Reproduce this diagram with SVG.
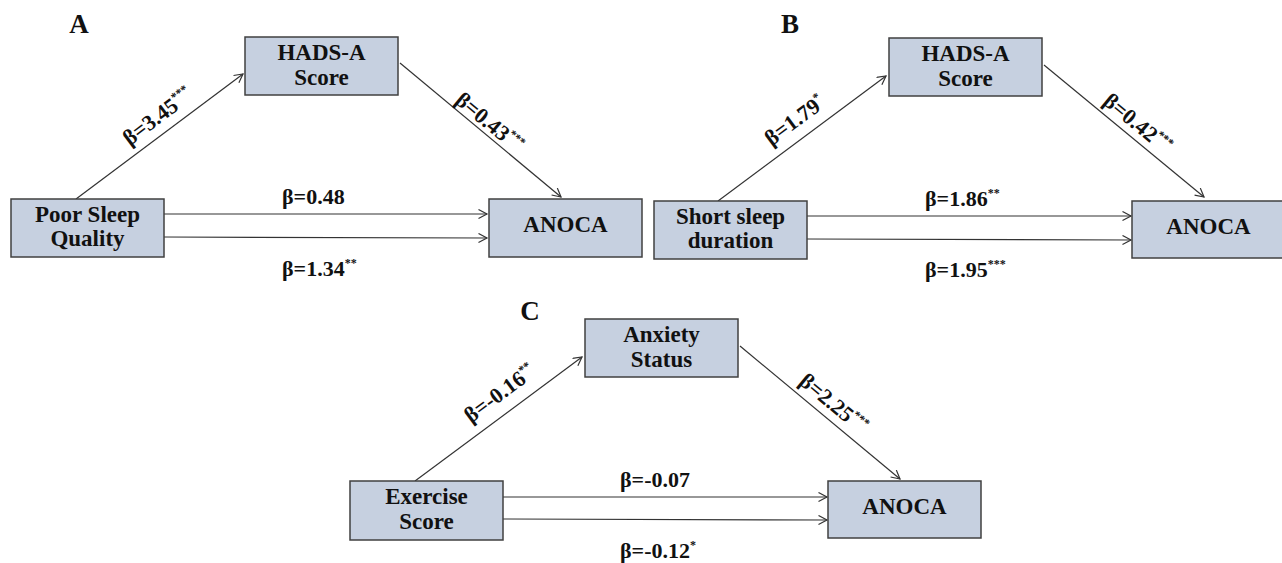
<svg xmlns="http://www.w3.org/2000/svg" width="1282" height="563" viewBox="0 0 1282 563">
<style>
.box{fill:#c6d0e0;stroke:#404040;stroke-width:1.5}
.t{font-family:"Liberation Serif","Times New Roman",serif;font-weight:bold;font-size:23px;fill:#111;text-anchor:middle}
.l{font-family:"Liberation Serif","Times New Roman",serif;font-weight:bold;font-size:22px;fill:#111}
.lm{text-anchor:middle}
.s{font-size:12px}
.p{font-family:"Liberation Serif","Times New Roman",serif;font-weight:bold;font-size:27px;fill:#111;text-anchor:middle}
.c{stroke:#333;stroke-width:1.2;fill:none;marker-end:url(#ah)}
</style>
<defs>
<marker id="ah" markerWidth="12" markerHeight="12" refX="9" refY="5" orient="auto" markerUnits="userSpaceOnUse">
<path d="M0.5,0.5 L9,5 L0.5,9.5" fill="none" stroke="#333" stroke-width="1.2"/>
</marker>
</defs>
<rect width="1282" height="563" fill="#fff"/>
<text class="p" x="79" y="33">A</text>
<text class="p" x="790" y="33">B</text>
<text class="p" x="530" y="320">C</text>
<g id="connectors">
<line class="c" x1="76" y1="199" x2="243" y2="74"/>
<line class="c" x1="400" y1="63" x2="561" y2="197"/>
<line class="c" x1="164" y1="214" x2="487" y2="214"/>
<line class="c" x1="164" y1="237" x2="487" y2="238"/>
<line class="c" x1="718" y1="201" x2="886" y2="76"/>
<line class="c" x1="1044" y1="65" x2="1204" y2="197"/>
<line class="c" x1="807" y1="216" x2="1131" y2="216"/>
<line class="c" x1="807" y1="239" x2="1131" y2="240"/>
<line class="c" x1="415" y1="481" x2="582" y2="357"/>
<line class="c" x1="740" y1="346" x2="900" y2="479"/>
<line class="c" x1="503" y1="497" x2="827" y2="497"/>
<line class="c" x1="503" y1="519" x2="827" y2="520"/>
</g>
<g id="labels">
<text class="l lm" transform="translate(162,122) rotate(-37)">β=3.45<tspan class="s" dy="-9">***</tspan></text>
<text class="l lm" transform="translate(485,128) rotate(39.8)">β=0.43<tspan class="s" dy="-9">***</tspan></text>
<text class="l" x="282" y="204">β=0.48</text>
<text class="l" x="282" y="276">β=1.34<tspan class="s" dy="-9">**</tspan></text>
<text class="l lm" transform="translate(799,126) rotate(-36.6)">β=1.79<tspan class="s" dy="-9">*</tspan></text>
<text class="l lm" transform="translate(1133,129) rotate(39.5)">β=0.42<tspan class="s" dy="-9">***</tspan></text>
<text class="l" x="925" y="206">β=1.86<tspan class="s" dy="-9">**</tspan></text>
<text class="l" x="925" y="277">β=1.95<tspan class="s" dy="-9">***</tspan></text>
<text class="l lm" transform="translate(504,399) rotate(-36.6)">β=-0.16<tspan class="s" dy="-9">**</tspan></text>
<text class="l lm" transform="translate(829,409) rotate(39.7)">β=2.25<tspan class="s" dy="-9">***</tspan></text>
<text class="l" x="620" y="487">β=-0.07</text>
<text class="l" x="620" y="558">β=-0.12<tspan class="s" dy="-9">*</tspan></text>
</g>
<g id="a-hads">
<rect class="box" x="245" y="37" width="153" height="58"/>
<text class="t" x="321.5" y="60">HADS-A</text>
<text class="t" x="321.5" y="85">Score</text>
</g>
<g id="a-sleep">
<rect class="box" x="11" y="199" width="153" height="58"/>
<text class="t" x="87.5" y="222">Poor Sleep</text>
<text class="t" x="87.5" y="246">Quality</text>
</g>
<g id="a-anoca">
<rect class="box" x="489" y="199" width="153" height="58"/>
<text class="t" x="565.5" y="232">ANOCA</text>
</g>
<g id="b-hads">
<rect class="box" x="889" y="38" width="153" height="58"/>
<text class="t" x="965.5" y="61">HADS-A</text>
<text class="t" x="965.5" y="86">Score</text>
</g>
<g id="b-sleep">
<rect class="box" x="654" y="201" width="153" height="58"/>
<text class="t" x="730.5" y="224">Short sleep</text>
<text class="t" x="730.5" y="248">duration</text>
</g>
<g id="b-anoca">
<rect class="box" x="1132" y="201" width="153" height="57"/>
<text class="t" x="1208.5" y="234">ANOCA</text>
</g>
<g id="c-anxiety">
<rect class="box" x="585" y="319" width="153" height="58"/>
<text class="t" x="661.5" y="342">Anxiety</text>
<text class="t" x="661.5" y="367">Status</text>
</g>
<g id="c-exercise">
<rect class="box" x="350" y="481" width="153" height="59"/>
<text class="t" x="426.5" y="504">Exercise</text>
<text class="t" x="426.5" y="529">Score</text>
</g>
<g id="c-anoca">
<rect class="box" x="828" y="481" width="153" height="57"/>
<text class="t" x="904.5" y="514">ANOCA</text>
</g>
</svg>
